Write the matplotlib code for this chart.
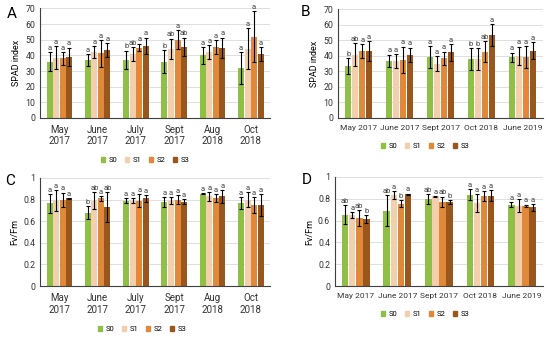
import matplotlib.pyplot as plt
import numpy as np
from matplotlib.patches import Patch

plt.rcParams["font.family"] = ["Roboto", "DejaVu Sans"]

series = ["S0", "S1", "S2", "S3"]
colors = ["#8fbf45", "#f3cfae", "#e0893b", "#9a571d"]

# panel A - SPAD, site 1
cats_a = ["May\n2017", "June\n2017", "July\n2017", "Sept\n2017", "Aug\n2018", "Oct\n2018"]
spad_a = [[36, 37, 37, 36, 40, 32],
          [38.5, 42, 41, 44.3, 42.2, 44.3],
          [38, 41.3, 45, 50, 45.4, 52],
          [39, 43.3, 46, 45.4, 45, 41]]
spad_a_err = [[6, 3.7, 6, 7.5, 5.4, 10],
              [7.5, 4, 4.5, 6.4, 4.3, 13],
              [4, 8.5, 2.5, 6, 4.5, 16.5],
              [6, 4.5, 5.4, 6, 6.4, 4.5]]
lett_a = [["a", "a", "b", "b", "a", "a"],
          ["a", "a", "ab", "ab", "a", "a"],
          ["a", "a", "a", "a", "a", "a"],
          ["a", "a", "a", "ab", "a", "a"]]

# panel B - SPAD, site 2
cats_b = ["May 2017", "June 2017", "Sept 2017", "Oct 2018", "June 2019"]
spad_b = [[33.6, 36.8, 39.2, 37.9, 39],
          [40.7, 36.8, 35, 37.9, 40],
          [43.3, 37.5, 38.5, 42.8, 39.2],
          [43.3, 40.7, 42.4, 53.5, 43.5]]
spad_b_err = [[5, 4, 6.9, 7, 3.2],
              [7.4, 4.3, 5, 7, 6],
              [4.5, 8.5, 4.3, 7, 7.3],
              [6.4, 4.7, 5.4, 6.8, 5.3]]
lett_b = [["b", "a", "a", "b", "a"],
          ["ab", "a", "a", "b", "a"],
          ["a", "a", "a", "ab", "a"],
          ["a", "a", "a", "a", "a"]]

# panel C - Fv/Fm, site 1
fv_c = [[0.765, 0.68, 0.79, 0.78, 0.856, 0.765],
        [0.79, 0.79, 0.79, 0.79, 0.83, 0.80],
        [0.80, 0.81, 0.79, 0.80, 0.815, 0.75],
        [0.81, 0.73, 0.81, 0.78, 0.83, 0.75]]
fv_c_err = [[0.09, 0.06, 0.02, 0.045, 0.005, 0.055],
            [0.10, 0.08, 0.02, 0.03, 0.04, 0.07],
            [0.065, 0.02, 0.06, 0.045, 0.04, 0.075],
            [0.005, 0.14, 0.03, 0.025, 0.06, 0.10]]
lett_c = [["a", "b", "a", "a", "a", "a"],
          ["a", "ab", "a", "a", "a", "a"],
          ["a", "a", "a", "a", "a", "a"],
          ["a", "ab", "a", "a", "a", "a"]]

# panel D - Fv/Fm, site 2
fv_d = [[0.655, 0.69, 0.80, 0.838, 0.747],
        [0.65, 0.832, 0.823, 0.76, 0.735],
        [0.625, 0.756, 0.77, 0.823, 0.735],
        [0.613, 0.84, 0.77, 0.826, 0.72]]
fv_d_err = [[0.09, 0.14, 0.045, 0.05, 0.025],
            [0.03, 0.035, 0.005, 0.08, 0.06],
            [0.07, 0.03, 0.05, 0.045, 0.012],
            [0.035, 0.008, 0.02, 0.05, 0.035]]
lett_d = [["ab", "ab", "ab", "a", "a"],
          ["a", "a", "a", "a", "a"],
          ["ab", "b", "ab", "a", "a"],
          ["b", "a", "b", "a", "a"]]


def panel(ax, cats, vals, errs, letters, ymax, ystep, off, ylabel, fmt, xsize):
    x = np.arange(len(cats))
    w = 0.17
    for i in range(4):
        xs = x + (i - 1.5) * w
        ax.bar(xs, vals[i], w * 0.92, color=colors[i], zorder=2)
        ax.errorbar(xs, vals[i], yerr=errs[i], fmt="none", ecolor="black",
                    elinewidth=0.8, capsize=1.6, capthick=0.8, zorder=3)
        for xx, v, e, l in zip(xs, vals[i], errs[i], letters[i]):
            ax.text(xx, v + e + off, l, ha="center", va="bottom", fontsize=5.5,
                    color="#404040")
    ax.set_xlim(-0.5, len(cats) - 0.5)
    ax.set_ylim(0, ymax)
    ticks = np.arange(0, ymax + ystep / 2, ystep)
    ax.set_yticks(ticks)
    ax.set_yticklabels([fmt(t) for t in ticks])
    ax.set_xticks(x)
    ax.set_xticklabels(cats)
    ax.tick_params(axis="both", length=0, labelsize=6.3, colors="#333333")
    ax.tick_params(axis="x", pad=5, labelsize=xsize)
    ax.yaxis.grid(True, color="#d9d9d9", linewidth=0.6, zorder=0)
    ax.set_axisbelow(True)
    for s in ["top", "right"]:
        ax.spines[s].set_visible(False)
    ax.spines["left"].set_color("#404040")
    ax.spines["bottom"].set_color("#404040")
    ax.spines["left"].set_linewidth(0.8)
    ax.spines["bottom"].set_linewidth(0.8)
    ax.set_ylabel(ylabel, fontsize=6.5, labelpad=3)


fig = plt.figure(figsize=(5.5, 3.37), dpi=100)
ax_a = fig.add_axes([0.073, 0.650, 0.418, 0.325])
ax_b = fig.add_axes([0.615, 0.650, 0.372, 0.322])
ax_c = fig.add_axes([0.073, 0.151, 0.418, 0.321])
ax_d = fig.add_axes([0.609, 0.151, 0.378, 0.324])

spad_fmt = lambda t: "%d" % t
fv_fmt = lambda t: "0" if t == 0 else ("1" if t == 1 else "%.1f" % t)
panel(ax_a, cats_a, spad_a, spad_a_err, lett_a, 70, 10, 0.8, "SPAD index", spad_fmt, 7)
panel(ax_b, cats_b, spad_b, spad_b_err, lett_b, 70, 10, 0.8, "SPAD index", spad_fmt, 6)
panel(ax_c, cats_a, fv_c, fv_c_err, lett_c, 1, 0.2, 0.01, "Fv/Fm", fv_fmt, 7)
panel(ax_d, cats_b, fv_d, fv_d_err, lett_d, 1, 0.2, 0.01, "Fv/Fm", fv_fmt, 6)

handles = [Patch(color=c, label=s) for c, s in zip(colors, series)]
for cx, cy in [(145, 160), (425, 146), (142, 329), (425, 314)]:
    fig.legend(handles=handles, loc="center", bbox_to_anchor=(cx / 550, 1 - cy / 337),
               ncol=4, frameon=False, fontsize=5.5, handlelength=0.6, handleheight=0.6,
               handletextpad=0.4, columnspacing=1.0)

for lab, px, py in [("A", 12, 14), ("B", 305, 12), ("C", 10, 181), ("D", 307, 180)]:
    fig.text(px / 550, 1 - py / 337, lab, fontsize=11, ha="center", va="center")

fig.savefig("out.png", dpi=100)
